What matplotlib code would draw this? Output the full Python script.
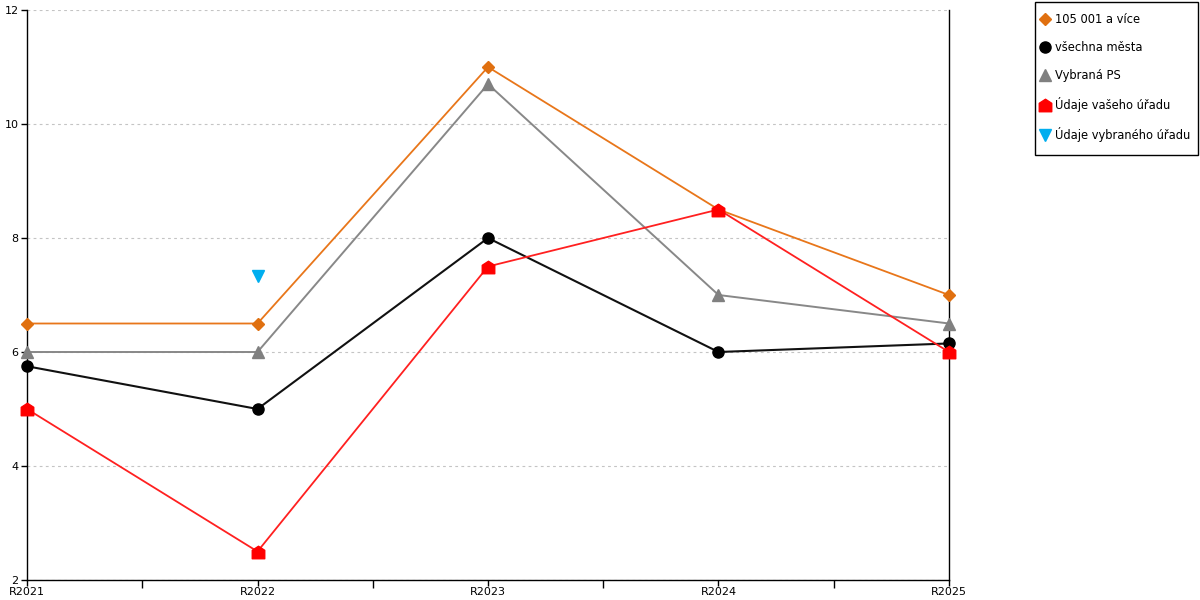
import matplotlib
matplotlib.use("Agg")
import matplotlib.pyplot as plt
from matplotlib.lines import Line2D
from matplotlib.patches import Rectangle
from matplotlib.path import Path

# Data
years = ["R2021", "R2022", "R2023", "R2024", "R2025"]
orange_vals = [6.5, 6.5, 11.0, 8.5, 7.0]
black_vals = [5.75, 5.0, 8.0, 6.0, 6.15]
gray_vals = [6.0, 6.0, 10.7, 7.0, 6.5]
red_vals = [5.0, 2.5, 7.5, 8.5, 6.0]
blue_vals = [None, 7.33, None, None, None]

labels = ["105 001 a více", "všechna města", "Vybraná PS",
          "Údaje vašeho úřadu", "Údaje vybraného úřadu"]

# house shaped marker
house = Path([(-1, -1), (1, -1), (1, 0.35), (0, 1), (-1, 0.35), (-1, -1)],
             [Path.MOVETO, Path.LINETO, Path.LINETO, Path.LINETO, Path.LINETO, Path.CLOSEPOLY])

plt.rcParams['font.family'] = ['DejaVu Sans']

W, H = 1200, 600
fig = plt.figure(figsize=(12, 6), dpi=100)
ax = fig.add_axes([27 / W, 20 / H, 922 / W, 570 / H])

x = list(range(len(years)))

ax.plot(x, orange_vals, color="#E8761A", lw=1.3, marker="D", ms=6,
        mfc="#E07010", mec="#E07010", clip_on=False, zorder=5)
ax.plot(x, gray_vals, color="#888888", lw=1.4, marker="^", ms=9,
        mfc="#808080", mec="#808080", clip_on=False, zorder=4)
ax.plot(x, black_vals, color="#111111", lw=1.5, marker="o", ms=8,
        mfc="black", mec="black", clip_on=False, zorder=6)
ax.plot(x, red_vals, color="#FF2020", lw=1.3, marker=house, ms=9,
        mfc="#FF0000", mec="#FF0000", clip_on=False, zorder=7)
bx = [i for i, v in enumerate(blue_vals) if v is not None]
by = [v for v in blue_vals if v is not None]
ax.plot(bx, by, ls="none", marker="v", ms=9, mfc="#00AEEF", mec="#00AEEF",
        clip_on=False, zorder=8)

ax.set_xlim(0, len(years) - 1)
ax.set_ylim(2, 12)
ax.set_yticks([2, 4, 6, 8, 10, 12])
ax.set_xticks(x)
ax.set_xticklabels(years)
ax.set_xticks([i + 0.5 for i in x[:-1]], minor=True)

ax.grid(axis="y", color="#C4C4C4", ls=(0, (2.5, 3)), lw=0.8)
ax.set_axisbelow(True)

ax.spines["top"].set_visible(False)
for s in ["left", "bottom", "right"]:
    ax.spines[s].set_color("black")
    ax.spines[s].set_linewidth(1)

ax.tick_params(axis="both", which="both", direction="out", colors="black",
               labelsize=8, width=1)
ax.tick_params(axis="x", which="major", length=4, pad=1)
ax.tick_params(axis="x", which="minor", length=6)
ax.tick_params(axis="y", length=4, pad=2)
ax.tick_params(axis="y", which="minor", left=False)

# legend box drawn separately so the padding can be tight
fig.patches.append(Rectangle((1035 / W, 1 - 155 / H), 163 / W, 153 / H,
                             transform=fig.transFigure, fill=False,
                             edgecolor="black", lw=1))

handles = [
    Line2D([], [], ls="none", marker="D", ms=6, mfc="#E07010", mec="#E07010"),
    Line2D([], [], ls="none", marker="o", ms=8, mfc="black", mec="black"),
    Line2D([], [], ls="none", marker="^", ms=9, mfc="#808080", mec="#808080"),
    Line2D([], [], ls="none", marker=house, ms=9, mfc="#FF0000", mec="#FF0000"),
    Line2D([], [], ls="none", marker="v", ms=9, mfc="#00AEEF", mec="#00AEEF"),
]
fig.legend(handles, labels, loc="upper left",
           bbox_to_anchor=(1040 / W, 1 - 13 / H),
           fontsize=8.3, frameon=False, handlelength=0.8, handletextpad=0.5,
           labelspacing=1.3, borderpad=0, borderaxespad=0)

fig.savefig("out.png", dpi=100)
